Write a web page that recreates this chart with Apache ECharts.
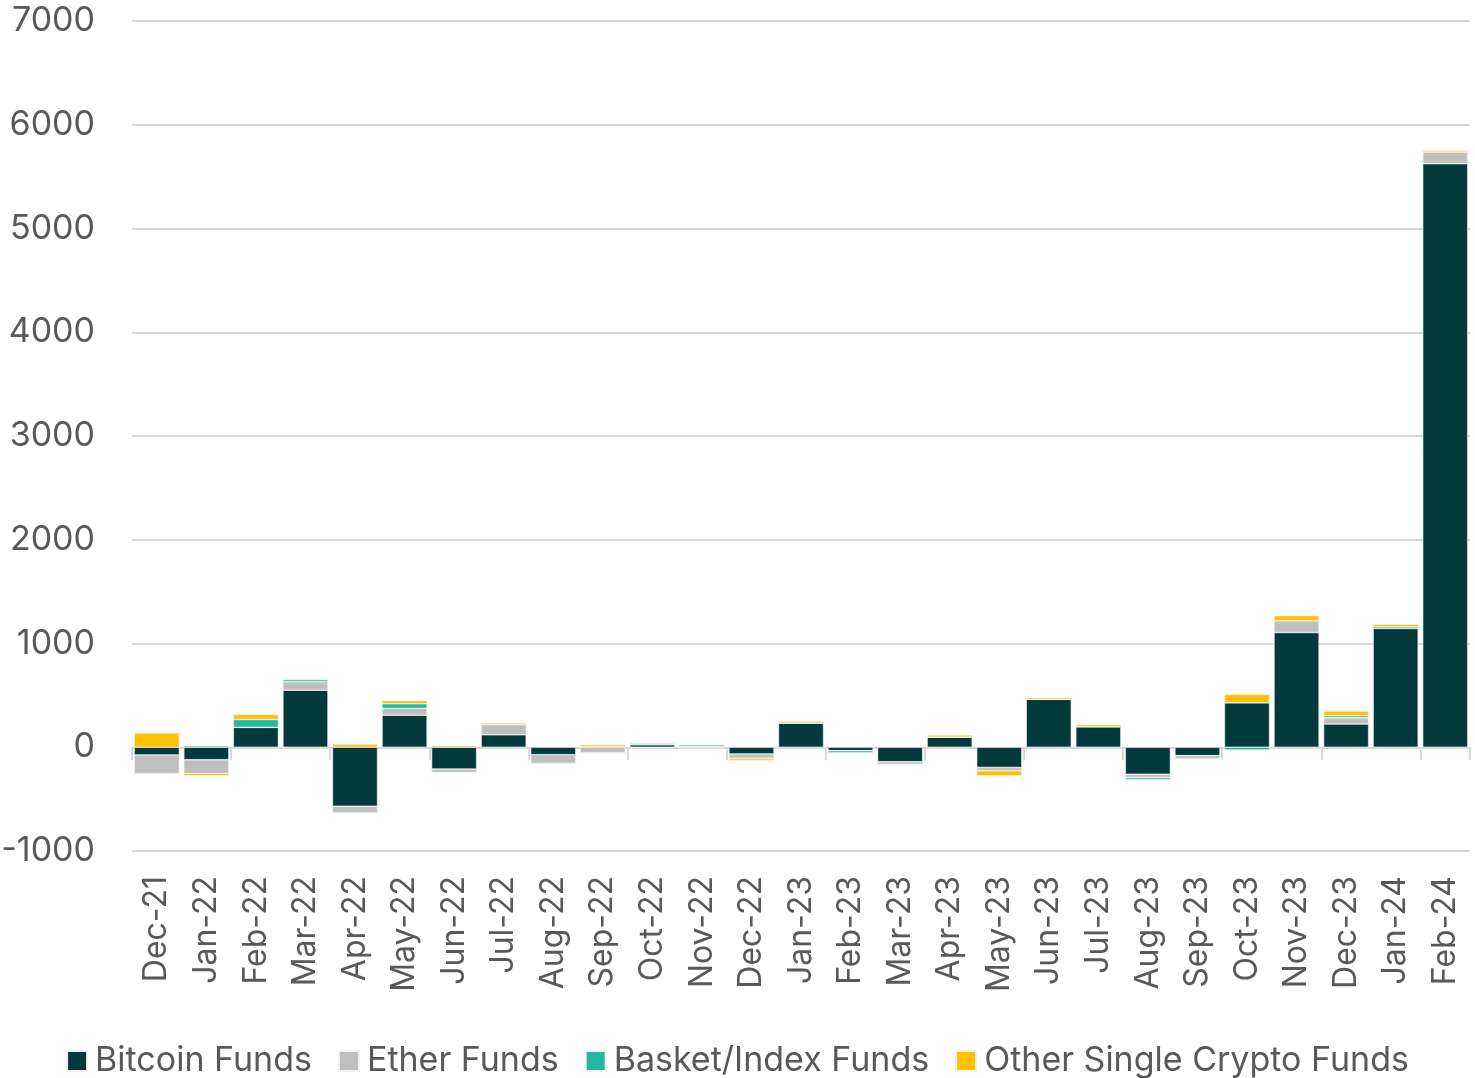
<!DOCTYPE html>
<html>
<head>
<meta charset="utf-8">
<script src="https://cdn.jsdelivr.net/npm/echarts@6/dist/echarts.min.js"></script>
<style>html,body{margin:0;padding:0;background:#fff}#c{width:1475px;height:1078px}</style>
</head>
<body>
<div id="c"></div>
<script>
const categories = ['Dec-21','Jan-22','Feb-22','Mar-22','Apr-22','May-22','Jun-22','Jul-22','Aug-22','Sep-22','Oct-22','Nov-22','Dec-22','Jan-23','Feb-23','Mar-23','Apr-23','May-23','Jun-23','Jul-23','Aug-23','Sep-23','Oct-23','Nov-23','Dec-23','Jan-24','Feb-24'];
const bitcoinFunds = [-75,-120,192,550,-569,309,-211,120,-72,5,25,10,-65,234,-33,-140,98,-195,462,198,-260,-81,429,1106,224,1145,5625];
const etherFunds   = [-180,-133,0,81,-65,65,-33,98,-85,-55,0,0,-42,0,0,-26,0,-32,0,0,-33,-32,0,114,59,0,113];
const basketFunds  = [0,15,75,20,0,46,0,0,0,0,12,15,0,0,-22,0,0,0,0,0,-22,0,-26,0,20,16,0];
const otherFunds   = [137,-23,49,7,30,29,15,16,0,20,-5,-5,-20,16,0,0,20,-49,16,20,0,0,81,49,46,26,15];
const yTicks = {min:-1000, max:7000, interval:1000};

const FONT = 'Inter';
const TXT = '#595959';
const colors = ['#02393A','#BFBFBF','#22B8A2','#FFC000'];
const names = ['Bitcoin Funds','Ether Funds','Basket/Index Funds','Other Single Crypto Funds'];
const data = [bitcoinFunds, etherFunds, basketFunds, otherFunds];

const chart = echarts.init(document.getElementById('c'), null, {renderer:'canvas'});
chart.setOption({
  animation:false,
  color:colors,
  grid:{left:132,right:5,top:21,bottom:227,containLabel:false,outerBoundsMode:'none'},
  legend:{
    top:1039,left:'center',icon:'rect',itemWidth:20,itemHeight:20,itemGap:26,
    textStyle:{fontFamily:FONT,fontSize:34,color:TXT,padding:[0,0,0,3]},
    data:names
  },
  xAxis:[
    {type:'category',data:categories,position:'bottom',
     axisLine:{show:false,onZero:false},axisTick:{show:false},
     axisLabel:{rotate:90,fontFamily:FONT,fontSize:32,color:TXT,margin:25,interval:0}},
    {type:'category',data:categories,position:'bottom',
     axisLine:{show:true,onZero:true,lineStyle:{color:'#d9d9d9',width:2}},
     axisTick:{show:true,length:13,lineStyle:{color:'#d9d9d9',width:2}},
     axisLabel:{show:false}}
  ],
  yAxis:{type:'value',min:yTicks.min,max:yTicks.max,interval:yTicks.interval,
    axisLine:{show:false},axisTick:{show:false},
    splitLine:{lineStyle:{color:'#d9d9d9',width:2}},
    axisLabel:{fontFamily:FONT,fontSize:34,color:TXT,margin:37,formatter:v=>String(v)}},
  series:names.map((n,i)=>({
    name:n,type:'bar',stack:'total',data:data[i],xAxisIndex:0,
    barCategoryGap:'9%',
    itemStyle:{color:colors[i],borderColor:'#f2f2f2',borderWidth:0.6}
  }))
});
</script>
</body>
</html>
